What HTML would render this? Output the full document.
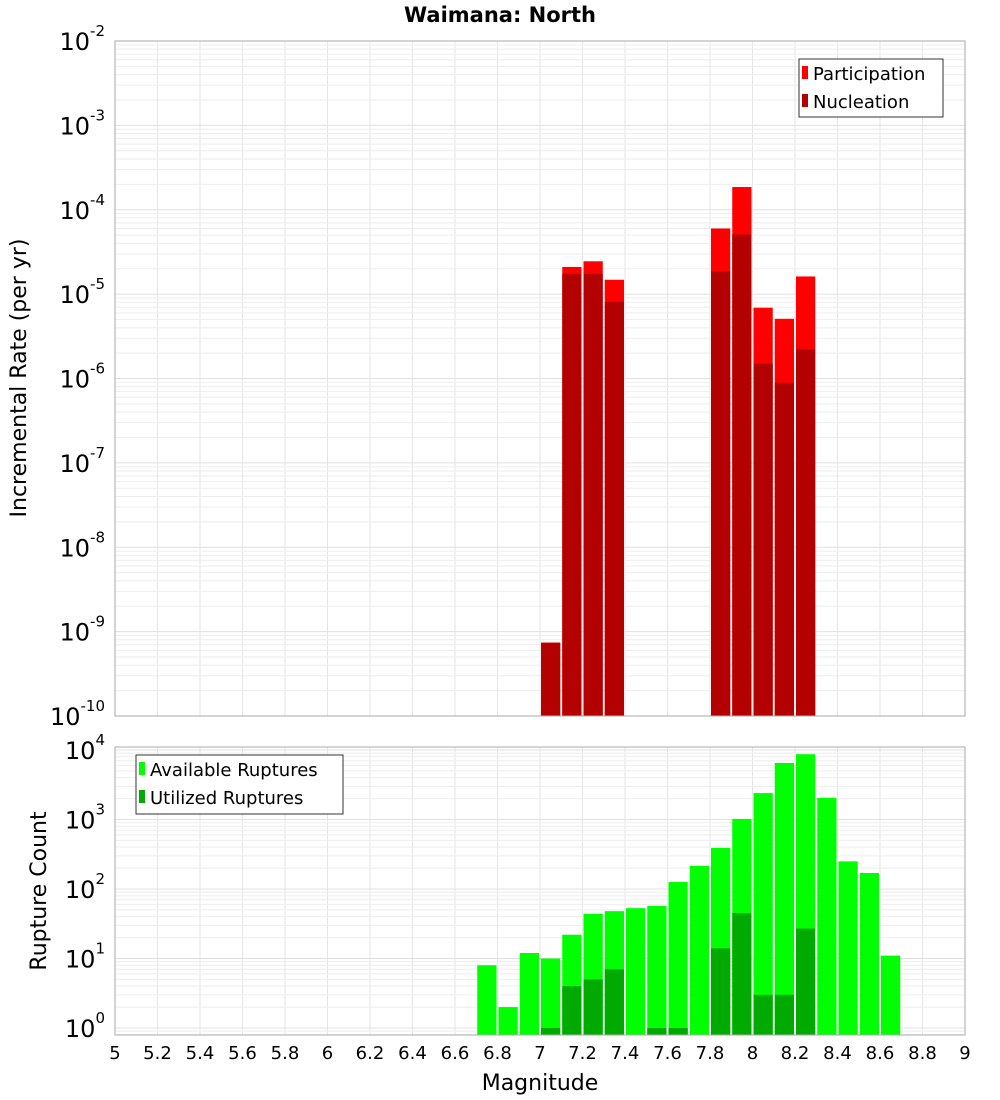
<!DOCTYPE html>
<html><head><meta charset="utf-8"><style>body{margin:0;background:#fff}svg{display:block;font-family:"DejaVu Sans","Liberation Sans",sans-serif}</style></head>
<body>
<svg id="c" width="1000" height="1100"></svg>
<script>
const bins=[6.75,6.85,6.95,7.05,7.15,7.25,7.35,7.45,7.55,7.65,7.75,7.85,7.95,8.05,8.15,8.25,8.35,8.45,8.55,8.65];
const participation=[0,0,0,7.4e-10,2.1e-5,2.45e-5,1.48e-5,0,0,0,0,6.0e-5,1.86e-4,6.9e-6,5.1e-6,1.62e-5,0,0,0,0];
const nucleation=[0,0,0,7.4e-10,1.74e-5,1.74e-5,8.1e-6,0,0,0,0,1.86e-5,5.1e-5,1.5e-6,8.9e-7,2.24e-6,0,0,0,0];
const available=[8,2,12,10,22,44,48,53,57,126,215,390,1020,2400,6500,8700,2050,250,170,11];
const utilized=[0,0,0,1,4,5,7,0,1,1,0,14,45,3,3,27,0,0,0,0];
const xTicks=[5,5.2,5.4,5.6,5.8,6,6.2,6.4,6.6,6.8,7,7.2,7.4,7.6,7.8,8,8.2,8.4,8.6,8.8,9];
const topDecades=[-10,-9,-8,-7,-6,-5,-4,-3,-2];
const botDecades=[0,1,2,3,4];
const NS="http://www.w3.org/2000/svg";
const svg=document.getElementById('c');
function el(t,a,p){const e=document.createElementNS(NS,t);for(const k in a)e.setAttribute(k,a[k]);(p||svg).appendChild(e);return e;}
const L=115,R=965;
const X=v=>L+(v-5)*(R-L)/4;
const T1=41,B1=716;
const Y1=v=>T1+(-2-Math.log10(v))*(B1-T1)/8;
const T2=747,B2=1035;
const Y2=v=>1028-69.5*Math.log10(v);
function grid(top,bot,yf,lo,hi){
  const g=el('g',{});
  
  
  xTicks.forEach(t=>el('line',{x1:X(t),x2:X(t),y1:top,y2:bot,stroke:'#e6e6e6','stroke-width':1},g));
  for(let d=lo;d<=hi;d++)for(let m=1;m<10;m++){const y=yf(m*Math.pow(10,d));if(y>=top&&y<=bot)el('line',{x1:L,x2:R,y1:y,y2:y,stroke:m==1?'#e0e0e0':'#eeeeee','stroke-width':1},g);}
}
grid(T1,B1,Y1,-10,-3);
grid(T2,B2,Y2,-1,4);
const bw=(R-L)/40;
bins.forEach((b,i)=>{
  const x=X(b)-bw/2+1,w=bw-2;
  if(participation[i]>0){const r=el('rect',{x:x,y:Y1(participation[i]),width:w,height:B1-Y1(participation[i]),fill:'#ff0000'});}
  if(nucleation[i]>0){const r=el('rect',{x:x,y:Y1(nucleation[i]),width:w,height:B1-Y1(nucleation[i]),fill:'#b30000'});}
  if(available[i]>0){const r=el('rect',{x:x,y:Y2(available[i]),width:w,height:B2-Y2(available[i]),fill:'#00ff00'});}
  if(utilized[i]>0){const r=el('rect',{x:x,y:Y2(utilized[i]),width:w,height:B2-Y2(utilized[i]),fill:'#00aa00'});}
});
el('rect',{x:L,y:T1,width:R-L,height:B1-T1,fill:'none',stroke:'#aaa'});
el('rect',{x:L,y:T2,width:R-L,height:B2-T2,fill:'none',stroke:'#aaa'});
function ylab(y,d){const t=el('text',{x:105,y:y+9,'text-anchor':'end','font-size':24,fill:'#000'});
  const a=el('tspan',{},t);a.textContent='10';const s=el('tspan',{dy:-14,'font-size':15},t);s.textContent=String(d);}
topDecades.forEach(d=>ylab(Y1(Math.pow(10,d)),d));
botDecades.forEach(d=>ylab(Y2(Math.pow(10,d)),d));
xTicks.forEach(t=>{const e=el('text',{x:X(t),y:1059,'text-anchor':'middle','font-size':18});e.textContent=String(t);});
let e=el('text',{x:540,y:1090,'text-anchor':'middle','font-size':22});e.textContent='Magnitude';
e=el('text',{x:0,y:0,'text-anchor':'middle','font-size':22,transform:'translate(26,378) rotate(-90)'});e.textContent='Incremental Rate (per yr)';
e=el('text',{x:0,y:0,'text-anchor':'middle','font-size':22,transform:'translate(46,891) rotate(-90)'});e.textContent='Rupture Count';
e=el('text',{x:500,y:22,'text-anchor':'middle','font-size':21,'font-weight':'bold'});e.textContent='Waimana: North';
function legend(x,y,w,h,items){const g=el('g',{});
  el('rect',{x:x,y:y,width:w,height:h,fill:'#fff',stroke:'#333'},g);
  items.forEach((it,i)=>{const cy=y+14+i*28;el('rect',{x:x+3,y:cy-7,width:6,height:13,fill:it[1]},g);const t=el('text',{x:x+14,y:cy+7,'font-size':18},g);t.textContent=it[0];});}
legend(799,59,144,58,[['Participation','#ff0000'],['Nucleation','#b30000']]);
legend(136,755,207,59,[['Available Ruptures','#00ff00'],['Utilized Ruptures','#00aa00']]);
</script>
</body></html>
